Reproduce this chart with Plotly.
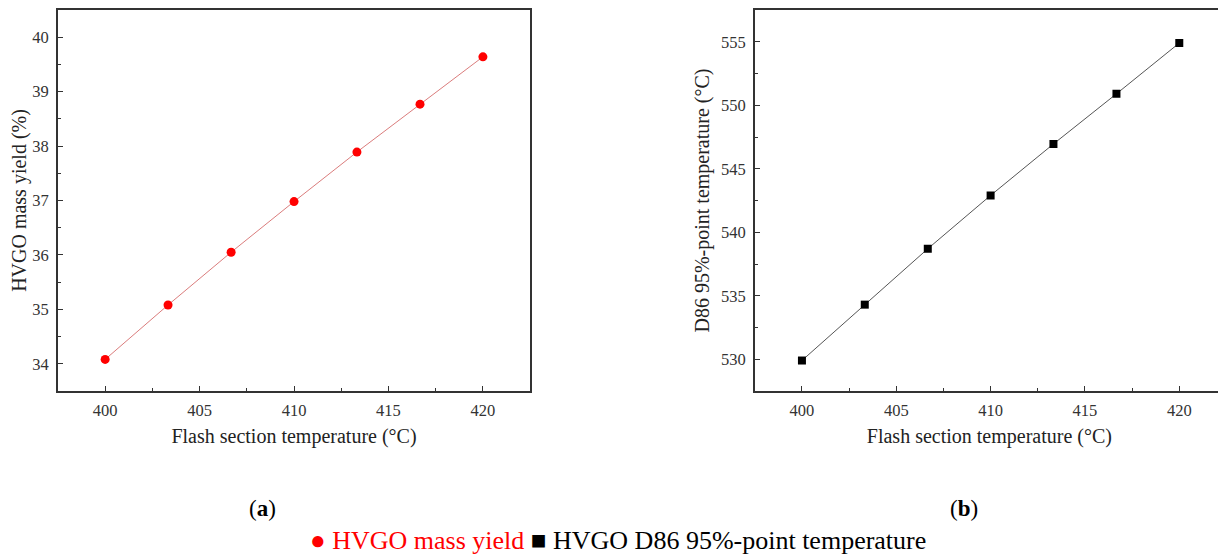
import plotly.graph_objects as go

# ---- data ----
flash_temp = [400, 403.33, 406.67, 410, 413.33, 416.67, 420]
hvgo_yield = [34.08, 35.08, 36.05, 36.98, 37.89, 38.77, 39.64]
d86_95 = [529.9, 534.3, 538.7, 542.9, 546.95, 550.9, 554.9]

x_ticks = [400, 405, 410, 415, 420]
y1_ticks = [34, 35, 36, 37, 38, 39, 40]
y2_ticks = [530, 535, 540, 545, 550, 555]

FONT = "Liberation Serif"
OFF = 8  # default page body margin
W, H = 1226 - OFF, 554 - OFF


def px(x):
    return (x - OFF) / W


def py(y):
    return 1 - (y - OFF) / H


fig = go.Figure()
fig.add_trace(go.Scatter(
    x=flash_temp, y=hvgo_yield, mode="lines+markers",
    line=dict(color="rgba(205,80,80,0.75)", width=1),
    marker=dict(symbol="circle", size=9, color="#ff0000"),
    xaxis="x", yaxis="y", showlegend=False))
fig.add_trace(go.Scatter(
    x=flash_temp, y=d86_95, mode="lines+markers",
    line=dict(color="#555555", width=1),
    marker=dict(symbol="square", size=8, color="#000000"),
    xaxis="x2", yaxis="y2", showlegend=False))

ydom = [py(391), py(10)]
common = dict(showline=True, linecolor="#333333", linewidth=1.5, mirror=True,
              ticks="inside", ticklen=5, tickwidth=1.2, tickcolor="#333333",
              showgrid=False, zeroline=False,
              tickfont=dict(family=FONT, size=16.5, color="#333333"))
tfont = dict(family=FONT, size=20, color="#222222")

fig.update_layout(
    width=W, height=H,
    margin=dict(l=0, r=0, t=0, b=0),
    paper_bgcolor="white", plot_bgcolor="white",
    font=dict(family=FONT, color="#222222"),
    xaxis=dict(domain=[px(58), px(531)], range=[397.5, 422.5], tickvals=x_ticks,
               minor=dict(ticks="inside", ticklen=3, dtick=2.5, tick0=400, tickcolor="#333333"),
               title=dict(text="Flash section temperature (°C)", font=tfont, standoff=10),
               ticklabelstandoff=3, anchor="y", **common),
    yaxis=dict(domain=ydom, range=[33.5, 40.5], tickvals=y1_ticks,
               minor=dict(ticks="inside", ticklen=3, dtick=0.5, tick0=34, tickcolor="#333333"),
               title=dict(text="HVGO mass yield (%)", font=tfont, standoff=6),
               ticklabelstandoff=4, anchor="x", **common),
    xaxis2=dict(domain=[px(756), 1.0], range=[397.5, 422.37], tickvals=x_ticks,
                minor=dict(ticks="inside", ticklen=3, dtick=2.5, tick0=400, tickcolor="#333333"),
                title=dict(text="Flash section temperature (°C)", font=tfont, standoff=10),
                ticklabelstandoff=3, anchor="y2", **common),
    yaxis2=dict(domain=ydom, range=[527.5, 557.5], tickvals=y2_ticks,
                minor=dict(ticks="inside", ticklen=3, dtick=2.5, tick0=530, tickcolor="#333333"),
                title=dict(text="D86 95%-point temperature (°C)", font=tfont, standoff=6),
                ticklabelstandoff=4, anchor="x2", **common),
)

ann = dict(xref="paper", yref="paper", showarrow=False, xanchor="center", yanchor="middle")
fig.add_annotation(x=px(263), y=py(508), text="(<b>a</b>)",
                   font=dict(family=FONT, size=23, color="#000000"), **ann)
fig.add_annotation(x=px(966), y=py(508), text="(<b>b</b>)",
                   font=dict(family=FONT, size=23, color="#000000"), **ann)
fig.add_annotation(x=px(619), y=py(540),
                   text="<span style='color:#ff0000'>● HVGO mass yield</span> "
                        "<span style='color:#000000'>■ HVGO D86 95%-point temperature</span>",
                   font=dict(family=FONT, size=26, color="#000000"), **ann)

fig.write_html("out.html")
